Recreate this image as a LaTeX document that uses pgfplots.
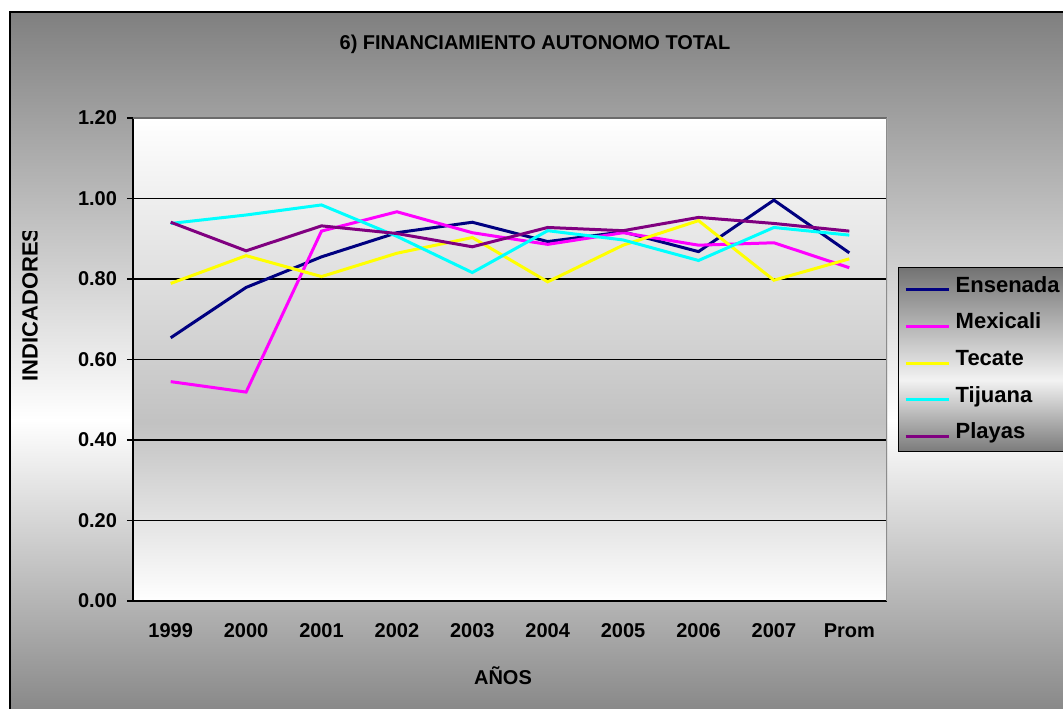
\documentclass[border=0pt]{standalone}
\usepackage{fontspec}
\setmainfont{Liberation Sans}
\usepackage{pgfplots}
\usepackage{pgfplotstable}
\pgfplotsset{compat=1.18}

\definecolor{cTop}{gray}{0.50}
\definecolor{cBot}{gray}{0.53}
\definecolor{pMid}{gray}{0.76}
\definecolor{lTop}{gray}{0.45}
\definecolor{lMid}{gray}{0.95}
\definecolor{lBot}{gray}{0.48}
\definecolor{edgeTop}{gray}{0.42}
\definecolor{edgeRight}{gray}{0.55}

\pgfdeclareverticalshading{chartbg}{100bp}{color(0bp)=(cBot); color(25bp)=(cBot); color(45.9bp)=(white); color(75bp)=(cTop); color(100bp)=(cTop)}
\pgfdeclareverticalshading{plotbg}{100bp}{color(0bp)=(white); color(25bp)=(white); color(43.5bp)=(pMid); color(75bp)=(white); color(100bp)=(white)}
\pgfdeclareverticalshading{legendbg}{100bp}{color(0bp)=(lBot); color(25bp)=(lBot); color(44.5bp)=(lMid); color(75bp)=(lTop); color(100bp)=(lTop)}

\pgfplotstableread{
x Ensenada Mexicali Tecate Tijuana Playas
0 0.654 0.545 0.789 0.938 0.941
1 0.779 0.519 0.858 0.959 0.870
2 0.855 0.919 0.806 0.984 0.932
3 0.915 0.967 0.864 0.906 0.913
4 0.941 0.915 0.903 0.816 0.880
5 0.893 0.886 0.793 0.920 0.928
6 0.917 0.915 0.884 0.897 0.920
7 0.868 0.884 0.945 0.846 0.953
8 0.996 0.890 0.797 0.928 0.938
9 0.865 0.828 0.850 0.909 0.919
}\datatable

\begin{document}
\begin{tikzpicture}[font=\bfseries\fontsize{15}{18}\selectfont]
\useasboundingbox (-99.75pt,-81pt) rectangle (697.5pt,450.75pt);
% chart area
\shade[shading=chartbg] (-92.25pt,-84pt) rectangle (705pt,441.75pt);
\draw[line width=1.5pt] (-92.25pt,-90pt) |- (710pt,441.75pt);

\begin{axis}[
    scale only axis,
    width=565.5pt, height=362.25pt,
    xmin=-0.5, xmax=9.5,
    ymin=0, ymax=1.2,
    axis x line*=bottom,
    axis y line*=left,
    axis line style={line width=1.1pt},
    axis background/.style={shade, shading=plotbg},
    xtick={0,...,9},
    xticklabels={1999,2000,2001,2002,2003,2004,2005,2006,2007,Prom},
    xtick style={draw=none},
    minor xtick={-0.5,0.5,...,9.5},
    minor x tick style={black, line width=1pt},
    ytick={0,0.2,0.4,0.6,0.8,1.0,1.2},
    y tick style={black, line width=1pt},
    tick align=outside,
    major tick length=4.5pt,
    minor tick length=5pt,
    ymajorgrids,
    major grid style={black, line width=0.9pt},
    /pgf/number format/fixed,
    /pgf/number format/fixed zerofill,
    /pgf/number format/precision=2,
    /pgf/number format/assume math mode=true,
    xticklabel style={yshift=-9pt},
    yticklabel style={xshift=-4pt},
    tick label style={font=\bfseries\fontsize{15}{18}\selectfont},
    every axis plot/.append style={line width=2.25pt, no markers},
    legend style={at={(rel axis cs:1.0146,0.6915)}, anchor=north west,
        shade, shading=legendbg, draw=black, line width=1pt,
        font=\bfseries\fontsize{16.5}{19}\selectfont,
        row sep=8pt, column sep=2pt, inner xsep=4pt, inner ysep=4.3pt,
        nodes={inner sep=2pt, text height=12pt, text depth=3.5pt}},
    legend cell align=left,
    legend image code/.code={\draw[#1] (0pt,-2.5pt) -- (32.5pt,-2.5pt);},
]
\addplot[color={rgb,255:red,0;green,0;blue,128}] table[x=x, y=Ensenada] {\datatable};
\addlegendentry{Ensenada}
\addplot[color={rgb,255:red,255;green,0;blue,255}] table[x=x, y=Mexicali] {\datatable};
\addlegendentry{Mexicali}
\addplot[color={rgb,255:red,255;green,255;blue,0}] table[x=x, y=Tecate] {\datatable};
\addlegendentry{Tecate}
\addplot[color={rgb,255:red,0;green,255;blue,255}] table[x=x, y=Tijuana] {\datatable};
\addlegendentry{Tijuana}
\addplot[color={rgb,255:red,128;green,0;blue,128}] table[x=x, y=Playas] {\datatable};
\addlegendentry{Playas}
% plot area edges (no black gridline at the top)
\draw[edgeTop, line width=1.6pt] (rel axis cs:0,1) -- (rel axis cs:1,1);
\draw[edgeRight, line width=1pt] (rel axis cs:1,1) -- (rel axis cs:1,0);
\end{axis}

\node at (301.5pt,417.75pt) {6) FINANCIAMIENTO AUTONOMO TOTAL};
\node at (277.5pt,-56.25pt) {AÑOS};
\begin{scope}
\clip (-99.75pt,-81pt) rectangle (-60pt,276.75pt);
\node[rotate=90, font=\bfseries\fontsize{16.5}{19}\selectfont] at (-77.25pt,222.4pt) {INDICADORES};
\end{scope}
\end{tikzpicture}
\end{document}
